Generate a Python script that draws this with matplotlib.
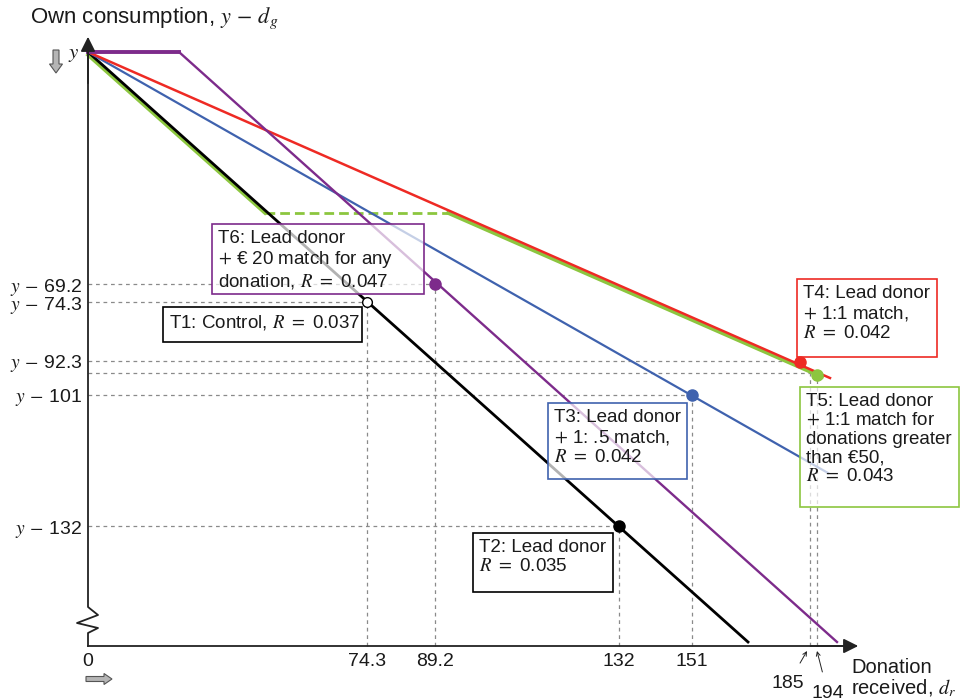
import matplotlib
matplotlib.use("Agg")
import matplotlib.pyplot as plt
from matplotlib.patches import Rectangle, FancyArrow

plt.rcParams['font.family'] = ['Liberation Sans', 'DejaVu Sans']
plt.rcParams['mathtext.fontset'] = 'stix'

# Schematic diagram units (not to scale): x = donation received, y = own consumption
y_top = 594

# budget lines
black_x = [0, 660]
black_y = [594, 4]
blue_x = [0, 740]
blue_y = [594, 173]
red_x = [0, 742]
red_y = [594, 268]
green_x1 = [0, 177]
green_y1 = [591, 433]
green_dash_x = [177, 360]
green_dash_y = [433, 433]
green_x2 = [360, 734]
green_y2 = [433, 269]
purple_flat_x = [0, 91]
purple_flat_y = [594, 594]
purple_x = [91, 749]
purple_y = [594, 4]

# chosen points per treatment
pt_names = ['T1', 'T2', 'T3', 'T4', 'T5', 'T6']
pt_x = [279, 531, 604, 712, 729, 347]
pt_y = [344, 120, 251, 284, 271, 362]
pt_colors = ['black', 'black', '#3F62AE', '#EE2A24', '#8CC63F', '#7D2B8B']

# dashed guides
hguide_y = [362, 344, 285, 273, 251, 120]
hguide_x = [347, 279, 712, 729, 604, 531]
vguide_x = [279, 347, 531, 604, 722, 729]
vguide_top = [344, 362, 120, 251, 273, 271]

# tick labels
xtick_pos = [0, 279, 347, 531, 604]
xtick_lab = ['0', '74.3', '89.2', '132', '151']
ytick_pos = [362, 344, 285, 251, 120]
ytick_lab = ['69.2', '74.3', '92.3', '101', '132']

# treatment boxes: (left, bottom, width, height), colour, text
boxes = [
    ((124, 352, 212, 70), '#7D2B8B',
     'T6: Lead donor\n$+$ € 20 match for any\ndonation, $R$ $=$ 0.047'),
    ((75, 304, 199, 35), 'black', 'T1: Control, $R$ $=$ 0.037'),
    ((460, 167, 139, 76), '#3F62AE',
     'T3: Lead donor\n$+$ 1: .5 match,\n$R$ $=$ 0.042'),
    ((385, 54, 140, 59), 'black', 'T2: Lead donor\n$R$ $=$ 0.035'),
    ((709, 289, 140, 78), '#EE2A24',
     'T4: Lead donor\n$+$ 1:1 match,\n$R$ $=$ 0.042'),
    ((712, 139, 159, 120), '#8CC63F',
     'T5: Lead donor\n$+$ 1:1 match for\ndonations greater\nthan €50,\n$R$ $=$ 0.043'),
]

txt_col = '#1a1a1a'

fig = plt.figure(figsize=(9.6, 6.99), dpi=100)
ax = fig.add_axes([0, 0, 1, 1])
ax.set_xlim(-88, 872)
ax.set_ylim(-53, 646)
ax.axis('off')

# axes with zigzag break
ax.plot([0, 0, 10, -11, 10, 0, 0], [600, 39, 31, 23, 18, 13, 0], color='#222222', lw=1.3, zorder=3)
ax.plot([0, 765], [0, 0], color='#222222', lw=1.3, zorder=3)
ax.annotate('', xy=(0, 612), xytext=(0, 560),
            arrowprops=dict(arrowstyle='-|>', color='#222222', lw=1.3, mutation_scale=22))
ax.annotate('', xy=(773, 0), xytext=(720, 0),
            arrowprops=dict(arrowstyle='-|>', color='#222222', lw=1.3, mutation_scale=22))

# guides
dash_kw = dict(color='#8a8a8a', lw=0.9, linestyle=(0, (3, 3)), zorder=1)
for yy, xx in zip(hguide_y, hguide_x):
    ax.plot([0, xx], [yy, yy], **dash_kw)
for xx, top in zip(vguide_x, vguide_top):
    ax.plot([xx, xx], [0, top], **dash_kw)

# budget lines
ax.plot(green_x1, green_y1, color='#8CC63F', lw=2.6, zorder=2)
ax.plot(green_dash_x, green_dash_y, color='#8CC63F', lw=2.0, linestyle=(0, (3.5, 1.8)), zorder=2)
ax.plot(green_x2, green_y2, color='#8CC63F', lw=2.6, zorder=2)
ax.plot(black_x, black_y, color='black', lw=2.0, zorder=2)
ax.plot(blue_x, blue_y, color='#3F62AE', lw=1.6, zorder=2)
ax.plot(red_x, red_y, color='#EE2A24', lw=1.8, zorder=2)
ax.plot(purple_flat_x, purple_flat_y, color='#7D2B8B', lw=2.8, zorder=2)
ax.plot(purple_x, purple_y, color='#7D2B8B', lw=1.7, zorder=2)

# boxes
for (l, b, w, h), col, txt in boxes:
    ax.add_patch(Rectangle((l, b), w, h, facecolor=(1, 1, 1, 0.7), edgecolor=col, lw=1.2, zorder=4))
    ax.text(l + 6, b + h - 6, txt, ha='left', va='top', fontsize=13.5, linespacing=1.14,
            color=txt_col, zorder=5)

# points
for name, xx, yy, col in zip(pt_names, pt_x, pt_y, pt_colors):
    if name == 'T1':
        ax.plot(xx, yy, 'o', ms=7, mfc='white', mec='black', mew=1.0, zorder=6)
    else:
        ax.plot(xx, yy, 'o', ms=8, color=col, zorder=6)

# tick labels
for xx, lab in zip(xtick_pos, xtick_lab):
    ax.text(xx, -7, lab, ha='center', va='top', fontsize=14, color=txt_col)
for yy, lab in zip(ytick_pos, ytick_lab):
    ax.text(-6, yy, '$y$ $-$ ' + lab, ha='right', va='center_baseline', fontsize=14, color=txt_col)
ax.text(-9, 594, '$y$', ha='right', va='center_baseline', fontsize=15, color=txt_col)

# 185 / 194 labels with pointers
ax.annotate('185', xy=(719, -5), xytext=(700, -38), ha='center', va='center', fontsize=14,
            color=txt_col, arrowprops=dict(arrowstyle='->', color='#222222', lw=0.7,
                                           shrinkA=8, shrinkB=0, mutation_scale=7))
ax.annotate('194', xy=(729, -5), xytext=(740, -48), ha='center', va='center', fontsize=14,
            color=txt_col, arrowprops=dict(arrowstyle='->', color='#222222', lw=0.7,
                                           shrinkA=8, shrinkB=0, mutation_scale=7))

# axis titles
ax.text(-58, 628, 'Own consumption, $y$ $-$ $d_g$', ha='left', va='center', fontsize=16,
        color=txt_col)
ax.text(763, -12, 'Donation\nreceived, $d_r$', ha='left', va='top', fontsize=14.5,
        linespacing=1.05, color=txt_col)

# grey direction arrows
ax.add_patch(FancyArrow(-32, 596, 0, -14, width=6, head_width=13, head_length=9,
                        length_includes_head=False, fc='#b5b5b5', ec='#555555', lw=0.8, zorder=3))
ax.add_patch(FancyArrow(-2, -33, 18, 0, width=5, head_width=11, head_length=8,
                        length_includes_head=False, fc='#b5b5b5', ec='#555555', lw=0.8, zorder=3))

fig.savefig('out.png', dpi=100)
